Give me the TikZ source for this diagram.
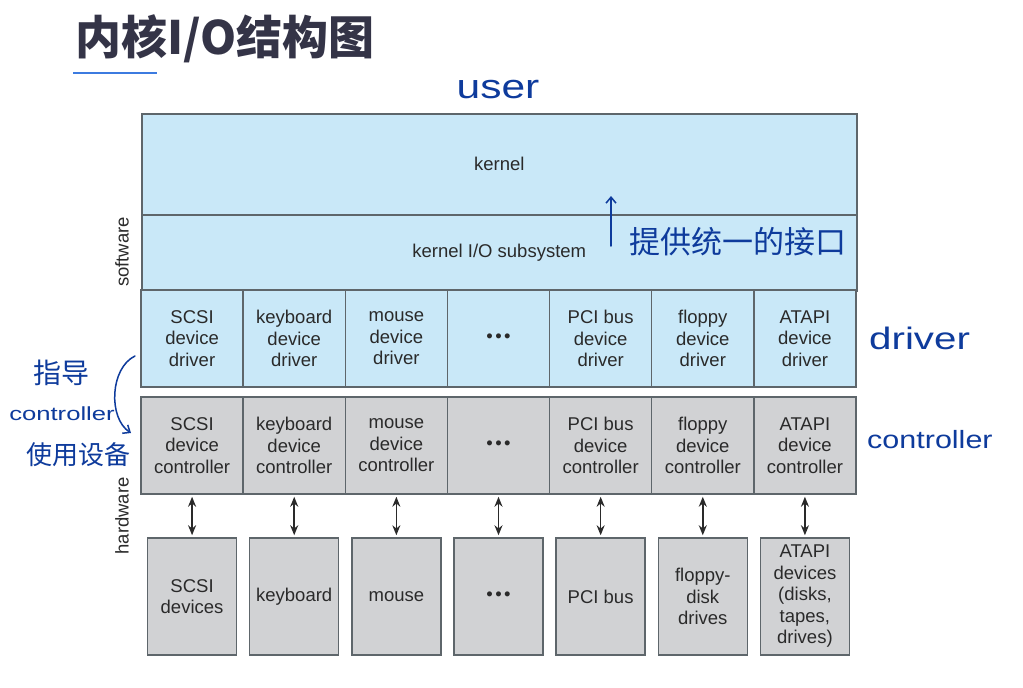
\documentclass[tikz,border=0pt]{standalone}
\usepackage{fontspec}
\setmainfont{Liberation Sans}
\newfontfamily\cjkfont{Noto Sans CJK SC}
\usetikzlibrary{arrows.meta}
\definecolor{swblue}{HTML}{C9E8F8}
\definecolor{hwgray}{HTML}{D1D2D4}
\definecolor{boxline}{HTML}{5E666B}
\definecolor{txt}{HTML}{2A2A2A}
\definecolor{ink}{HTML}{0E3B9C}
\definecolor{titlec}{HTML}{343447}
\definecolor{ulblue}{HTML}{3C7BE0}
\begin{document}
\begin{tikzpicture}[x=1pt,y=-1pt,
  box/.style={draw=boxline, line width=1.5pt, inner sep=0pt, align=center,
    font=\fontsize{18.5}{21.5}\selectfont, text=txt},
  sw/.style={box, fill=swblue},
  hw/.style={box, fill=hwgray},
  side/.style={rotate=90, font=\fontsize{18.5}{20}\selectfont, text=txt},
  hand/.style={text=ink, inner sep=0pt},
  dbl/.style={{Stealth[length=10pt,width=8pt]}-{Stealth[length=10pt,width=8pt]}, line width=1.6pt, draw=txt, shorten <=2pt, shorten >=2pt},
  inkline/.style={draw=ink, line width=1.5pt, line cap=round, -{Straight Barb[length=6pt,width=10pt]}}
]
\useasboundingbox[fill=white] (0,0) rectangle (1023,688);

% title
\node[anchor=west, inner sep=0pt, text=titlec, font=\cjkfont\bfseries\fontsize{46}{50}\selectfont] (title) at (75,39) {内核I/O结构图};
\draw[ulblue, line width=2pt] (73,73) -- (157,73);

% kernel and subsystem
\node[sw, minimum width=715pt, minimum height=101pt, anchor=north west] (kernel) at (141,113) {kernel};
\node[sw, minimum width=715pt, minimum height=76pt, anchor=north west] (kio) at (141,214) {kernel I/O subsystem};

% columns
\foreach \i/\t in {1/SCSI, 2/keyboard, 3/mouse, 5/PCI bus, 6/floppy, 7/ATAPI}{
  \pgfmathsetmacro{\cx}{141+(\i-0.5)*102.143}
  \node[sw, minimum width=102.143pt, minimum height=97pt] (d\i) at (\cx,338.5) {\t\\device\\driver};
  \node[hw, minimum width=102.143pt, minimum height=97pt] (c\i) at (\cx,445.5) {\t\\device\\controller};
}
\pgfmathsetmacro{\cx}{141+3.5*102.143}
\node[sw, minimum width=102.143pt, minimum height=97pt] (d4) at (\cx,338.5) {•\kern2.5pt•\kern2.5pt•};
\node[hw, minimum width=102.143pt, minimum height=97pt] (c4) at (\cx,445.5) {•\kern2.5pt•\kern2.5pt•};

% devices
\foreach \i/\t in {1/{SCSI\\devices}, 2/keyboard, 3/mouse, 4/{•\kern2.5pt•\kern2.5pt•}, 5/PCI bus, 6/{floppy-\\disk\\drives}, 7/{ATAPI\\devices\\(disks,\\tapes,\\drives)}}{
  \pgfmathsetmacro{\cx}{141+(\i-0.5)*102.143}
  \node[hw, minimum width=89pt, minimum height=117pt] (v\i) at (\cx,596.5) {\t};
}
\foreach \i in {1,...,7}{
  \draw[dbl] (c\i.south) -- (v\i.north);
}

% side labels
\node[side] (swlab) at (122,252) {software};
\node[side] (hwlab) at (122,516) {hardware};

% handwritten annotations
\node[hand, font=\fontsize{34}{36}\selectfont] (user) at (498,90) {\scalebox{1.25}[1]{user}};
\node[hand, anchor=west, font=\cjkfont\fontsize{31}{33}\selectfont] (iface) at (629,242) {提供统一的接口};
\coordinate (upA) at (611,246);
\coordinate (upB) at (611,196);
\draw[inkline] (upA) -- (upB);
\node[hand, anchor=west, font=\fontsize{31}{33}\selectfont] (drv) at (869,338) {\scalebox{1.3}[1]{driver}};
\node[hand, anchor=west, font=\fontsize{25}{27}\selectfont] (ctl) at (867,440) {\scalebox{1.22}[1]{controller}};

\node[hand, font=\cjkfont\fontsize{28}{30}\selectfont] (zd) at (62,373) {指导};
\node[hand, font=\fontsize{19}{21}\selectfont] (lctl) at (62,414) {\scalebox{1.35}[1]{controller}};
\node[hand, font=\cjkfont\fontsize{26}{28}\selectfont] (sy) at (78,455) {使用设备};
\coordinate (brA) at (135,356);
\coordinate (brB) at (131,433);
\draw[inkline] (brA) .. controls (110,368) and (108,418) .. (brB);
\end{tikzpicture}
\end{document}
